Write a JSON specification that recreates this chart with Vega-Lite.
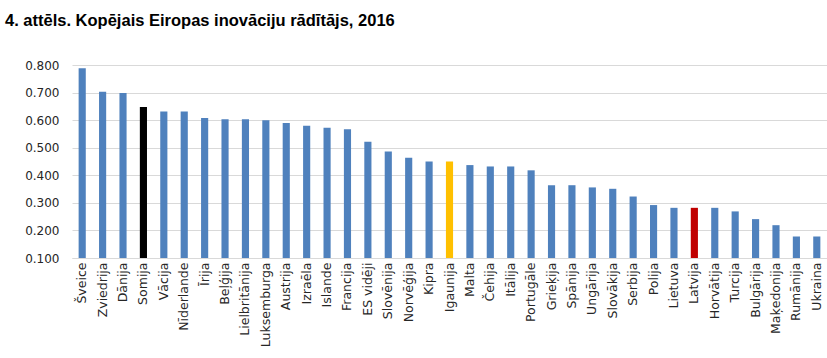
{
  "$schema": "https://vega.github.io/schema/vega-lite/v6.json",
  "autosize": "none",
  "width": 755,
  "height": 193,
  "padding": {"left": 72, "top": 65, "right": 0, "bottom": 100},
  "background": "white",
  "title": {
    "text": "4. attēls. Kopējais Eiropas inovāciju rādītājs, 2016",
    "anchor": "start",
    "frame": "group",
    "dx": -67,
    "offset": 30,
    "font": "Liberation Sans",
    "fontSize": 16.5,
    "fontWeight": "bold",
    "color": "#000000"
  },
  "data": {
    "values": [
      {"country": "Šveice", "value": 0.788},
      {"country": "Zviedrija", "value": 0.703},
      {"country": "Dānija", "value": 0.698},
      {"country": "Somija", "value": 0.648},
      {"country": "Vācija", "value": 0.631},
      {"country": "Nīderlande", "value": 0.631},
      {"country": "Īrija", "value": 0.608},
      {"country": "Beļģija", "value": 0.603},
      {"country": "Lielbritānija", "value": 0.603},
      {"country": "Luksemburga", "value": 0.600},
      {"country": "Austrija", "value": 0.590},
      {"country": "Izraēla", "value": 0.580},
      {"country": "Islande", "value": 0.572},
      {"country": "Francija", "value": 0.567},
      {"country": "ES vidēji", "value": 0.522},
      {"country": "Slovēnija", "value": 0.486},
      {"country": "Norvēģija", "value": 0.464},
      {"country": "Kipra", "value": 0.450},
      {"country": "Igaunija", "value": 0.450},
      {"country": "Malta", "value": 0.437},
      {"country": "Čehija", "value": 0.432},
      {"country": "Itālija", "value": 0.432},
      {"country": "Portugāle", "value": 0.418},
      {"country": "Grieķija", "value": 0.364},
      {"country": "Spānija", "value": 0.364},
      {"country": "Ungārija", "value": 0.356},
      {"country": "Slovākija", "value": 0.351},
      {"country": "Serbija", "value": 0.323},
      {"country": "Polija", "value": 0.292},
      {"country": "Lietuva", "value": 0.282},
      {"country": "Latvija", "value": 0.282},
      {"country": "Horvātija", "value": 0.282},
      {"country": "Turcija", "value": 0.269},
      {"country": "Bulgārija", "value": 0.241},
      {"country": "Maķedonija", "value": 0.219},
      {"country": "Rumānija", "value": 0.178},
      {"country": "Ukraina", "value": 0.178}
    ]
  },
  "mark": {"type": "bar", "clip": true},
  "encoding": {
    "x": {
      "field": "country",
      "type": "nominal",
      "sort": null,
      "title": null,
      "scale": {"paddingInner": 0.65, "paddingOuter": 0.325},
      "axis": {
        "labelAngle": -90,
        "labelFont": "DejaVu Sans",
        "labelFontSize": 12.5,
        "labelColor": "#262626",
        "labelPadding": 4,
        "ticks": false,
        "domainColor": "#d9d9d9",
        "domainWidth": 1,
        "grid": false
      }
    },
    "y": {
      "field": "value",
      "type": "quantitative",
      "title": null,
      "scale": {"domain": [0.1, 0.8], "nice": false, "zero": false},
      "axis": {
        "values": [0.1, 0.2, 0.3, 0.4, 0.5, 0.6, 0.7, 0.8],
        "format": ".3f",
        "labelFont": "DejaVu Sans",
        "labelFontSize": 12,
        "labelColor": "#262626",
        "labelPadding": 13,
        "ticks": false,
        "domain": false,
        "gridColor": "#d9d9d9",
        "gridWidth": 1
      }
    },
    "color": {
      "condition": [
        {"test": "datum.country === 'Somija'", "value": "#000000"},
        {"test": "datum.country === 'Igaunija'", "value": "#ffc000"},
        {"test": "datum.country === 'Latvija'", "value": "#c00000"}
      ],
      "value": "#4f81bd"
    }
  },
  "config": {"view": {"stroke": null}}
}
